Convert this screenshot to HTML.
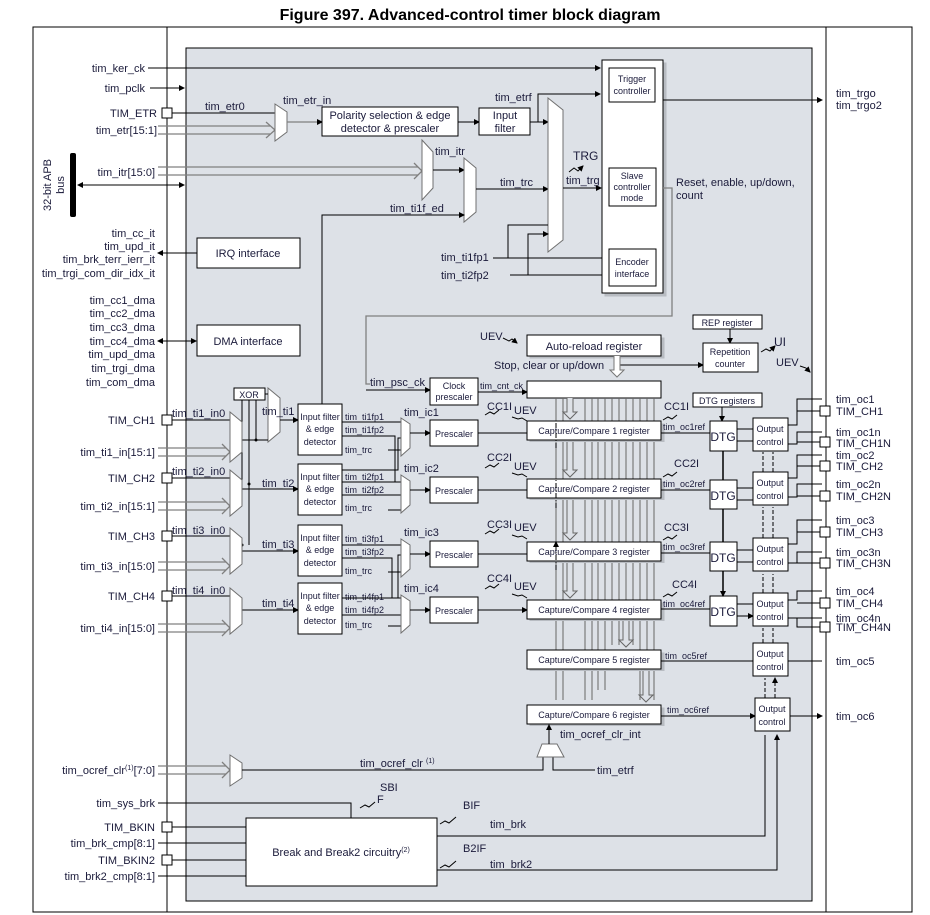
<!DOCTYPE html>
<html><head><meta charset="utf-8"><style>
html,body{margin:0;padding:0;background:#fff;}
svg{display:block;font-family:"Liberation Sans",sans-serif;}
text{fill:#1a1a3a;font-size:11px;}
.s{font-size:9px;}
.b{fill:#fff;stroke:#000;stroke-width:1;}
.l{stroke:#000;stroke-width:1;fill:none;}
.g{stroke:#808080;stroke-width:1.3;fill:none;}
.m{fill:#fff;stroke:#707070;stroke-width:1;}
</style></head><body>
<svg width="930" height="915" viewBox="0 0 930 915" xmlns="http://www.w3.org/2000/svg">
<defs>
<marker id="a" markerWidth="6" markerHeight="6" refX="5" refY="3" orient="auto" markerUnits="userSpaceOnUse"><path d="M0,0L6,3L0,6z" fill="#000"/></marker>
<marker id="a2" markerWidth="6" markerHeight="6" refX="1" refY="3" orient="auto" markerUnits="userSpaceOnUse"><path d="M6,0L0,3L6,6z" fill="#000"/></marker>
<filter id="sh"><feDropShadow dx="3" dy="3" stdDeviation="0" flood-color="#b8bcc2"/></filter>
</defs>
<text x="470" y="20" text-anchor="middle" style="font-size:16px;font-weight:bold;fill:#000">Figure 397. Advanced-control timer block diagram</text>
<rect x="33" y="27" width="879" height="885" fill="none" stroke="#000"/>
<rect x="186" y="48" width="626" height="853" fill="#dde1e7" stroke="#000"/>
<line x1="167" y1="27" x2="167" y2="912" class="l"/>
<line x1="826" y1="27" x2="826" y2="912" class="l"/>

<!-- APB bus -->
<rect x="70" y="153" width="6" height="64" rx="2" fill="#000"/>
<text transform="translate(51,185) rotate(-90)" text-anchor="middle">32-bit APB</text>
<text transform="translate(64,185) rotate(-90)" text-anchor="middle">bus</text>
<line x1="78" y1="185" x2="184" y2="185" class="l" marker-end="url(#a)" marker-start="url(#a2)"/>

<!-- top inputs -->
<text x="145" y="72" text-anchor="end">tim_ker_ck</text>
<line x1="148" y1="68" x2="600" y2="68" class="l" marker-end="url(#a)"/>
<text x="145" y="92" text-anchor="end">tim_pclk</text>
<line x1="150" y1="88" x2="184" y2="88" class="l" marker-end="url(#a)"/>
<text x="157" y="117" text-anchor="end">TIM_ETR</text>
<rect x="162" y="108" width="10" height="10" class="b"/>
<line x1="172" y1="113" x2="275" y2="113" class="l"/>
<text x="205" y="110">tim_etr0</text>
<text x="157" y="134" text-anchor="end">tim_etr[15:1]</text>
<path d="M158,126H270M158,134H270" class="g"/><path d="M266,122L275,130L266,138" class="g"/>
<polygon points="275,104 287,112 287,132 275,141" class="m"/>
<text x="283" y="104">tim_etr_in</text>
<line x1="287" y1="122" x2="322" y2="122" class="g" marker-end="url(#a)"/>
<rect x="322" y="107" width="136" height="29" class="b"/>
<text x="390" y="119" text-anchor="middle">Polarity selection &amp; edge</text>
<text x="390" y="132" text-anchor="middle">detector &amp; prescaler</text>
<line x1="458" y1="122" x2="479" y2="122" class="l" marker-end="url(#a)"/>
<rect x="479" y="108" width="51" height="27" class="b"/>
<text x="505" y="119" text-anchor="middle">Input</text><text x="505" y="132" text-anchor="middle">filter</text>
<text x="495" y="101">tim_etrf</text>
<path d="M530,122H548" class="l" marker-end="url(#a)"/>
<path d="M538,122V94H600" class="l" marker-end="url(#a)"/>

<text x="155" y="176" text-anchor="end">tim_itr[15:0]</text>
<path d="M158,167H418M158,175H418" class="g"/><path d="M414,163L422,171L414,179" class="g"/>
<polygon points="422,140 433,152 433,188 422,200" class="m"/>
<text x="435" y="155">tim_itr</text>
<line x1="433" y1="170" x2="464" y2="170" class="l" marker-end="url(#a)"/>
<polygon points="464,158 476,168 476,212 464,222" class="m"/>
<text x="390" y="212">tim_ti1f_ed</text>
<path d="M322,404V215H464" class="l" marker-end="url(#a)"/>
<text x="500" y="186">tim_trc</text>
<line x1="476" y1="189" x2="548" y2="189" class="l" marker-end="url(#a)"/>
<polygon points="548,98 563,110 563,240 548,252" class="m"/>
<text x="573" y="160" style="font-size:12px">TRG</text>
<path d="M569,172l5,-4 4,3 5,-5" class="l" marker-end="url(#a)"/>
<text x="566" y="184">tim_trg</text>
<line x1="563" y1="188" x2="601" y2="188" class="l" marker-end="url(#a)"/>
<text x="441" y="261">tim_ti1fp1</text>
<text x="441" y="279">tim_ti2fp2</text>
<path d="M493,258H663M510,275H663" class="l"/>
<path d="M508,258V225H548M528,275V234H548" class="l" marker-end="url(#a)"/>
<path d="M563,258H601M563,275H601" class="l"/>

<!-- controller -->
<rect x="602" y="60" width="61" height="233" class="b" filter="url(#sh)"/>
<rect x="609" y="68" width="46" height="34" class="b"/>
<text x="632" y="82" text-anchor="middle" class="s">Trigger</text><text x="632" y="94" text-anchor="middle" class="s">controller</text>
<rect x="609" y="168" width="47" height="38" class="b"/>
<text x="632" y="179" text-anchor="middle" class="s">Slave</text><text x="632" y="190" text-anchor="middle" class="s">controller</text><text x="632" y="201" text-anchor="middle" class="s">mode</text>
<rect x="609" y="249" width="47" height="37" class="b"/>
<text x="632" y="265" text-anchor="middle" class="s">Encoder</text><text x="632" y="277" text-anchor="middle" class="s">interface</text>
<line x1="663" y1="100" x2="822" y2="100" class="l" marker-end="url(#a)"/>
<text x="836" y="97">tim_trgo</text><text x="836" y="109">tim_trgo2</text>
<text x="676" y="186">Reset, enable, up/down,</text><text x="676" y="199">count</text>
<path d="M663,188H672V316H366V384H370" class="g"/>

<!-- IRQ / DMA -->
<text x="155" y="237" text-anchor="end">tim_cc_it</text>
<text x="155" y="250" text-anchor="end">tim_upd_it</text>
<text x="155" y="263" text-anchor="end">tim_brk_terr_ierr_it</text>
<text x="155" y="277" text-anchor="end">tim_trgi_com_dir_idx_it</text>
<line x1="158" y1="253" x2="197" y2="253" class="l" marker-start="url(#a2)"/>
<rect x="197" y="238" width="103" height="30" class="b"/>
<text x="248" y="257" text-anchor="middle">IRQ interface</text>
<text x="155" y="304" text-anchor="end">tim_cc1_dma</text>
<text x="155" y="317" text-anchor="end">tim_cc2_dma</text>
<text x="155" y="331" text-anchor="end">tim_cc3_dma</text>
<text x="155" y="345" text-anchor="end">tim_cc4_dma</text>
<text x="155" y="358" text-anchor="end">tim_upd_dma</text>
<text x="155" y="372" text-anchor="end">tim_trgi_dma</text>
<text x="155" y="386" text-anchor="end">tim_com_dma</text>
<line x1="158" y1="341" x2="196" y2="341" class="l" marker-start="url(#a2)" marker-end="url(#a)"/>
<rect x="197" y="325" width="103" height="31" class="b"/>
<text x="248" y="345" text-anchor="middle">DMA interface</text>

<!-- counter area -->
<text x="480" y="340">UEV</text>
<path d="M503,338l6,3 3,-2 5,4" class="l" marker-end="url(#a)"/>
<rect x="527" y="335" width="134" height="21" class="b" filter="url(#sh)"/>
<text x="594" y="350" text-anchor="middle">Auto-reload register</text>
<text x="494" y="369">Stop, clear or up/down</text>
<line x1="618" y1="365" x2="703" y2="365" class="l" marker-end="url(#a)"/>
<path d="M614,356V370h-4l7,7 7,-7h-4V356" fill="#fff" stroke="#777"/>
<rect x="693" y="315" width="69" height="14" class="b"/>
<text x="727" y="326" text-anchor="middle" class="s">REP register</text>
<line x1="730" y1="329" x2="730" y2="343" class="l" marker-end="url(#a)"/>
<rect x="703" y="343" width="55" height="29" class="b"/>
<text x="730" y="355" text-anchor="middle" class="s">Repetition</text><text x="730" y="367" text-anchor="middle" class="s">counter</text>
<text x="774" y="346" style="font-size:12px">UI</text>
<path d="M761,352l5,-3 4,2 5,-5" class="l" marker-end="url(#a)"/>
<text x="776" y="366">UEV</text>
<path d="M800,366l6,2 4,4" class="l" marker-end="url(#a)"/>
<text x="370" y="386">tim_psc_ck</text>
<line x1="366" y1="390" x2="430" y2="390" class="l" marker-end="url(#a)"/>
<rect x="430" y="378" width="48" height="27" class="b"/>
<text x="454" y="389" text-anchor="middle" class="s">Clock</text><text x="454" y="400" text-anchor="middle" class="s">prescaler</text>
<text x="480" y="389" class="s">tim_cnt_ck</text>
<line x1="478" y1="392" x2="527" y2="392" class="l" marker-end="url(#a)"/>
<rect x="527" y="381" width="134" height="17" class="b"/>
<!-- bus lines -->
<path d="M556,398V700M563,398V700M585,398V700M592,398V700M598,398V690M605,398V690M612,398V645M619,398V645M626,398V645M633,398V645M640,398V700M647,398V700M654,398V700" stroke="#666" stroke-width="1"/>
<path d="M567,398V412h-4l7,7 7,-7h-4V398" fill="#dde1e7" stroke="#666"/>
<path d="M567,440V470h-4l7,7 7,-7h-4V440" fill="#dde1e7" stroke="#666"/>
<path d="M567,498V533h-4l7,7 7,-7h-4V498" fill="#dde1e7" stroke="#666"/>
<path d="M567,561V591h-4l7,7 7,-7h-4V561" fill="#dde1e7" stroke="#666"/>
<path d="M623,619V640h-4l7,7 7,-7h-4V619" fill="#dde1e7" stroke="#666"/>
<path d="M643,669V695h-4l7,7 7,-7h-4V669" fill="#dde1e7" stroke="#666"/>

<!-- XOR & channel 1 mux -->
<rect x="234" y="388" width="31" height="12" class="b"/>
<text x="249" y="398" text-anchor="middle" class="s">XOR</text>
<polygon points="268,388 280,398 280,432 268,442" class="m"/>
<path d="M265,394H268" class="l"/>
<path d="M242,400V484M249,400V545M256,400V440" class="l"/>
<line x1="242" y1="440" x2="268" y2="440" class="l"/>
<circle cx="256" cy="440" r="1.5"/><circle cx="249" cy="484" r="1.5"/><circle cx="242" cy="545" r="1.5"/>
<text x="262" y="415">tim_ti1</text>
<line x1="280" y1="420" x2="298" y2="420" class="l" marker-end="url(#a)"/>
<text x="262" y="487">tim_ti2</text>
<line x1="242" y1="489" x2="298" y2="489" class="l" marker-end="url(#a)"/>
<text x="262" y="548">tim_ti3</text>
<line x1="242" y1="551" x2="298" y2="551" class="l" marker-end="url(#a)"/>
<text x="262" y="607">tim_ti4</text>
<line x1="242" y1="610" x2="298" y2="610" class="l" marker-end="url(#a)"/>

<!-- channel inputs -->
<text x="155" y="424" text-anchor="end">TIM_CH1</text><rect x="162" y="415" width="10" height="10" class="b"/>
<line x1="172" y1="420" x2="230" y2="420" class="l"/><text x="172" y="417">tim_ti1_in0</text>
<text x="155" y="456" text-anchor="end">tim_ti1_in[15:1]</text>
<path d="M158,448H226M158,456H226" class="g"/><path d="M222,444L230,452L222,460" class="g"/>
<polygon points="230,412 242,422 242,452 230,462" class="m"/>
<text x="155" y="482" text-anchor="end">TIM_CH2</text><rect x="162" y="473" width="10" height="10" class="b"/>
<line x1="172" y1="478" x2="230" y2="478" class="l"/><text x="172" y="475">tim_ti2_in0</text>
<text x="155" y="510" text-anchor="end">tim_ti2_in[15:1]</text>
<path d="M158,502H226M158,510H226" class="g"/><path d="M222,498L230,506L222,514" class="g"/>
<polygon points="230,470 242,480 242,506 230,516" class="m"/>
<text x="155" y="540" text-anchor="end">TIM_CH3</text><rect x="162" y="531" width="10" height="10" class="b"/>
<line x1="172" y1="536" x2="230" y2="536" class="l"/><text x="172" y="534">tim_ti3_in0</text>
<text x="155" y="570" text-anchor="end">tim_ti3_in[15:0]</text>
<path d="M158,562H226M158,570H226" class="g"/><path d="M222,558L230,566L222,574" class="g"/>
<polygon points="230,528 242,538 242,564 230,574" class="m"/>
<text x="155" y="600" text-anchor="end">TIM_CH4</text><rect x="162" y="591" width="10" height="10" class="b"/>
<line x1="172" y1="596" x2="230" y2="596" class="l"/><text x="172" y="594">tim_ti4_in0</text>
<text x="155" y="632" text-anchor="end">tim_ti4_in[15:0]</text>
<path d="M158,624H226M158,632H226" class="g"/><path d="M222,620L230,628L222,636" class="g"/>
<polygon points="230,588 242,598 242,624 230,634" class="m"/>

<!-- Input filters -->
<g id="if">
<rect x="298" y="404" width="44" height="51" class="b"/>
<text x="320" y="420" text-anchor="middle" class="s">Input filter</text>
<text x="320" y="432" text-anchor="middle" class="s">&amp; edge</text>
<text x="320" y="445" text-anchor="middle" class="s">detector</text>
</g>
<use href="#if" y="60"/><use href="#if" y="121"/><use href="#if" y="179"/>

<!-- filter outputs ch1 -->
<text x="345" y="420" class="s">tim_ti1fp1</text><text x="345" y="433" class="s">tim_ti1fp2</text><text x="345" y="453" class="s">tim_trc</text>
<path d="M342,422H401M342,436H395V482H401M388,450H401" class="l"/>
<text x="345" y="480" class="s">tim_ti2fp1</text><text x="345" y="493" class="s">tim_ti2fp2</text><text x="345" y="511" class="s">tim_trc</text>
<path d="M342,482H401M342,495H401M388,510H401M342,467V467" class="l"/>
<path d="M342,482H395" class="l"/><path d="M342,482V482" class="l"/>
<path d="M342,470H398V438H401" class="l"/>
<text x="345" y="542" class="s">tim_ti3fp1</text><text x="345" y="555" class="s">tim_ti3fp2</text><text x="345" y="574" class="s">tim_trc</text>
<path d="M342,545H401M342,558H392V598H401M388,572H401" class="l"/>
<text x="345" y="600" class="s">tim_ti4fp1</text><text x="345" y="613" class="s">tim_ti4fp2</text><text x="345" y="628" class="s">tim_trc</text>
<path d="M342,598H398V555H401M342,615H401M388,626H401" class="l"/>

<!-- small muxes + prescalers -->
<g id="pc">
<polygon points="401,418 410,424 410,448 401,456" class="m"/>
<line x1="410" y1="433" x2="430" y2="433" class="l" marker-end="url(#a)"/>
<rect x="430" y="420" width="48" height="26" class="b"/>
<text x="454" y="437" text-anchor="middle" class="s">Prescaler</text>
</g>
<use href="#pc" y="57"/><use href="#pc" y="121"/><use href="#pc" y="177"/>
<text x="404" y="416">tim_ic1</text><text x="404" y="472">tim_ic2</text><text x="404" y="536">tim_ic3</text><text x="404" y="592">tim_ic4</text>
<path d="M478,433H527M478,490H527M478,554H527M478,610H527" class="l" marker-end="url(#a)"/>

<!-- CC registers -->
<g class="s">
<rect x="527" y="421" width="134" height="19" class="b" filter="url(#sh)"/><text x="594" y="434" text-anchor="middle" class="s">Capture/Compare 1 register</text>
<rect x="527" y="479" width="134" height="19" class="b" filter="url(#sh)"/><text x="594" y="492" text-anchor="middle" class="s">Capture/Compare 2 register</text>
<rect x="527" y="542" width="134" height="19" class="b" filter="url(#sh)"/><text x="594" y="555" text-anchor="middle" class="s">Capture/Compare 3 register</text>
<rect x="527" y="600" width="134" height="19" class="b" filter="url(#sh)"/><text x="594" y="613" text-anchor="middle" class="s">Capture/Compare 4 register</text>
<rect x="527" y="650" width="134" height="19" class="b" filter="url(#sh)"/><text x="594" y="663" text-anchor="middle" class="s">Capture/Compare 5 register</text>
<rect x="527" y="705" width="134" height="19" class="b" filter="url(#sh)"/><text x="594" y="718" text-anchor="middle" class="s">Capture/Compare 6 register</text>
</g>
<text x="487" y="410">CC1I</text><text x="514" y="414">UEV</text>
<text x="487" y="461">CC2I</text><text x="514" y="470">UEV</text>
<text x="487" y="528">CC3I</text><text x="514" y="531">UEV</text>
<text x="487" y="582">CC4I</text><text x="514" y="590">UEV</text>
<path d="M485,415l5,-3 4,2 5,-4M512,417l6,2 4,-1 5,3M485,468l5,-3 4,2 5,-4M512,473l6,2 4,-1 5,3M485,534l5,-3 4,2 5,-4M512,535l6,2 4,-1 5,3M485,589l5,-3 4,2 5,-4M512,594l6,2 4,-1 5,3" class="l"/>
<path d="M556,448V421M556,508V479M556,570V542" stroke="#000" stroke-dasharray="5,2,1,2" marker-end="url(#a)"/>

<!-- DTG & outputs -->
<rect x="693" y="393" width="69" height="14" class="b"/><text x="727" y="404" text-anchor="middle" class="s">DTG registers</text>
<line x1="722" y1="407" x2="722" y2="421" class="l" marker-end="url(#a)"/>
<text x="664" y="410">CC1I</text><text x="674" y="467">CC2I</text><text x="664" y="531">CC3I</text><text x="672" y="588">CC4I</text>
<path d="M663,420l5,-3 4,2 5,-4M663,477l5,-3 4,2 5,-4M663,540l5,-3 4,2 5,-4M663,597l5,-3 4,2 5,-4" class="l"/>
<text x="663" y="430" class="s">tim_oc1ref</text><text x="663" y="487" class="s">tim_oc2ref</text><text x="663" y="550" class="s">tim_oc3ref</text><text x="663" y="607" class="s">tim_oc4ref</text>
<text x="665" y="659" class="s">tim_oc5ref</text><text x="667" y="713" class="s">tim_oc6ref</text>
<path d="M661,433H710M661,490H710M661,553H710M661,609H710M661,661H753M661,716H755" class="l" marker-end="url(#a)"/>
<rect x="710" y="421" width="27" height="30" class="b"/><text x="723" y="441" text-anchor="middle" style="font-size:12px">DTG</text>
<rect x="710" y="480" width="27" height="29" class="b"/><text x="723" y="500" text-anchor="middle" style="font-size:12px">DTG</text>
<rect x="710" y="542" width="27" height="29" class="b"/><text x="723" y="562" text-anchor="middle" style="font-size:12px">DTG</text>
<rect x="710" y="596" width="27" height="30" class="b"/><text x="723" y="616" text-anchor="middle" style="font-size:12px">DTG</text>
<path d="M723,451V480M723,509V542M723,571V596" stroke="#000" stroke-width="1.5" marker-end="url(#a)"/>
<path d="M737,429H753M737,441H753M737,488H753M737,500H753M737,550H753M737,562H753M737,604H753M737,616H753" class="l" marker-end="url(#a)"/>
<g id="oc"><rect x="753" y="418" width="35" height="33" class="b"/><text x="770" y="432" text-anchor="middle" class="s">Output</text><text x="770" y="445" text-anchor="middle" class="s">control</text></g>
<use href="#oc" y="54"/><use href="#oc" y="120"/><use href="#oc" y="175"/><use href="#oc" y="225"/><use href="#oc" transform="translate(2,280)"/>
<path d="M763,472V452M773,472V452M763,538V507M773,538V507M763,593V574M773,593V574M763,643V628M773,643V628M765,698V678M775,698V678" stroke="#000" stroke-dasharray="4,2" marker-end="url(#a)"/>
<!-- output wires -->
<path d="M788,425H797V399H822M797,411H820M788,444H797V432H822M797,442H820M788,478H797V455H822M797,466H820M788,497H797V484H822M797,496H820M788,544H797V520H822M797,532H820M788,563H797V552H822M797,563H820M788,600H797V591H822M797,603H820M788,618H822M797,618V627H820M788,661H822M790,716H822" class="l"/>
<path d="M815,399h7M815,411h5M815,432h7M815,442h5M815,455h7M815,466h5M815,484h7M815,496h5M815,520h7M815,532h5M815,552h7M815,563h5M815,591h7M815,603h5M815,618h7M815,627h5M815,661h7M815,716h7" class="l" marker-end="url(#a)"/>
<g fill="#fff" stroke="#000"><rect x="820" y="406" width="10" height="10"/><rect x="820" y="437" width="10" height="10"/><rect x="820" y="461" width="10" height="10"/><rect x="820" y="491" width="10" height="10"/><rect x="820" y="527" width="10" height="10"/><rect x="820" y="558" width="10" height="10"/><rect x="820" y="598" width="10" height="10"/><rect x="820" y="622" width="10" height="10"/></g>
<text x="836" y="403">tim_oc1</text><text x="836" y="415">TIM_CH1</text><text x="836" y="436">tim_oc1n</text><text x="836" y="447">TIM_CH1N</text>
<text x="836" y="459">tim_oc2</text><text x="836" y="470">TIM_CH2</text><text x="836" y="488">tim_oc2n</text><text x="836" y="500">TIM_CH2N</text>
<text x="836" y="524">tim_oc3</text><text x="836" y="536">TIM_CH3</text><text x="836" y="556">tim_oc3n</text><text x="836" y="567">TIM_CH3N</text>
<text x="836" y="595">tim_oc4</text><text x="836" y="607">TIM_CH4</text><text x="836" y="622">tim_oc4n</text><text x="836" y="631">TIM_CH4N</text>
<text x="836" y="665">tim_oc5</text><text x="836" y="720">tim_oc6</text>

<!-- ocref_clr -->
<text x="155" y="774" text-anchor="end">tim_ocref_clr<tspan dy="-4" style="font-size:7px">(1)</tspan><tspan dy="4">[7:0]</tspan></text>
<path d="M158,766H226M158,774H226" class="g"/><path d="M222,762L230,770L222,778" class="g"/>
<polygon points="230,755 242,763 242,778 230,786" class="m"/>
<path d="M242,770H543V757M553,757V770H595" class="l"/>
<text x="360" y="767">tim_ocref_clr <tspan dy="-4" style="font-size:7px">(1)</tspan></text>
<text x="597" y="774">tim_etrf</text>
<polygon points="537,757 542,744 557,744 564,757" class="m"/>
<line x1="549" y1="744" x2="549" y2="725" class="l" marker-end="url(#a)"/>
<text x="560" y="738">tim_ocref_clr_int</text>

<!-- break -->
<text x="155" y="807" text-anchor="end">tim_sys_brk</text>
<path d="M158,803H351V818" class="l"/>
<text x="380" y="791">SBI</text><text x="377" y="803">F</text>
<path d="M360,808l5,-3 4,2 6,-5" class="l"/>
<text x="463" y="809">BIF</text><path d="M440,824l5,-3 4,2 7,-6" class="l"/>
<text x="490" y="828">tim_brk</text>
<text x="463" y="852">B2IF</text><path d="M440,868l5,-3 4,2 7,-6" class="l"/>
<text x="490" y="868">tim_brk2</text>
<rect x="246" y="818" width="191" height="68" class="b"/>
<text x="341" y="856" text-anchor="middle">Break and Break2 circuitry<tspan dy="-4" style="font-size:7px">(2)</tspan></text>
<text x="155" y="831" text-anchor="end">TIM_BKIN</text><rect x="162" y="822" width="10" height="10" class="b"/>
<text x="155" y="847" text-anchor="end">tim_brk_cmp[8:1]</text>
<text x="155" y="864" text-anchor="end">TIM_BKIN2</text><rect x="162" y="855" width="10" height="10" class="b"/>
<text x="155" y="880" text-anchor="end">tim_brk2_cmp[8:1]</text>
<path d="M172,827H246M158,843H246M172,860H246M158,876H246" class="l"/>
<path d="M437,836H765V735M437,870H777V735" class="l" marker-end="url(#a)"/>
</svg>
</body></html>
